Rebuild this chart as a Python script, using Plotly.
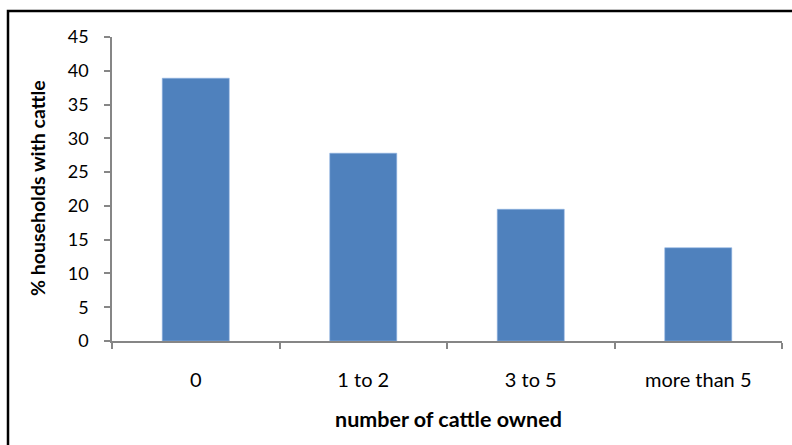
import plotly.graph_objects as go

# Households by herd size
categories = ["0", "1 to 2", "3 to 5", "more than 5"]
pct_households = [38.9, 27.8, 19.5, 13.8]

y_ticks = [0, 5, 10, 15, 20, 25, 30, 35, 40, 45]

FONT = "Lato, Liberation Sans, sans-serif"
AXIS_GREY = "#868686"

fig = go.Figure(
    go.Bar(
        x=categories,
        y=pct_households,
        marker=dict(color="#4F81BD", line=dict(color="#8EB4E3", width=0.6)),
        width=0.4,
    )
)

L, R, T, B = 112, 10, 37, 104
W, H = 792, 445
plot_w = W - L - R
plot_h = H - T - B

fig.update_layout(
    width=W,
    height=H,
    margin=dict(l=L, r=R, t=T, b=B),
    paper_bgcolor="white",
    plot_bgcolor="white",
    showlegend=False,
    font=dict(family=FONT, color="#000000", size=17),
    xaxis=dict(
        type="category",
        range=[-0.5, 3.5],
        showline=True,
        linecolor=AXIS_GREY,
        linewidth=1.5,
        ticks="outside",
        tickson="boundaries",
        ticklen=6,
        tickcolor=AXIS_GREY,
        tickwidth=1.5,
        showgrid=False,
        ticklabelstandoff=20,
        tickfont=dict(size=20),
        zeroline=False,
    ),
    yaxis=dict(
        range=[0, 45],
        tickvals=y_ticks,
        showline=True,
        linecolor=AXIS_GREY,
        linewidth=1.5,
        ticks="outside",
        ticklen=6,
        tickcolor=AXIS_GREY,
        tickwidth=1.5,
        showgrid=False,
        zeroline=False,
        ticklabelstandoff=12,
        tickfont=dict(size=18),
    ),
    annotations=[
        dict(
            text="<b>number of cattle owned</b>",
            xref="paper", yref="paper",
            x=(448 - L) / plot_w, y=(H - B - 419) / plot_h,
            xanchor="center", yanchor="middle",
            showarrow=False,
            font=dict(size=21.5, family=FONT),
        ),
        dict(
            text="<b>% households with cattle</b>",
            xref="paper", yref="paper",
            x=(37 - L) / plot_w, y=(H - B - 188) / plot_h,
            xanchor="center", yanchor="middle",
            textangle=-90,
            showarrow=False,
            font=dict(size=19.5, family=FONT),
        ),
    ],
    shapes=[
        # chart frame (left and top edges visible)
        dict(
            type="rect",
            xref="paper", yref="paper",
            x0=(8 - L) / plot_w, x1=1.2,
            y0=-0.6, y1=1 + (T - 11) / plot_h,
            line=dict(color="black", width=2.5),
            fillcolor="rgba(0,0,0,0)",
            layer="above",
        )
    ],
)

fig.write_html("out.html")
